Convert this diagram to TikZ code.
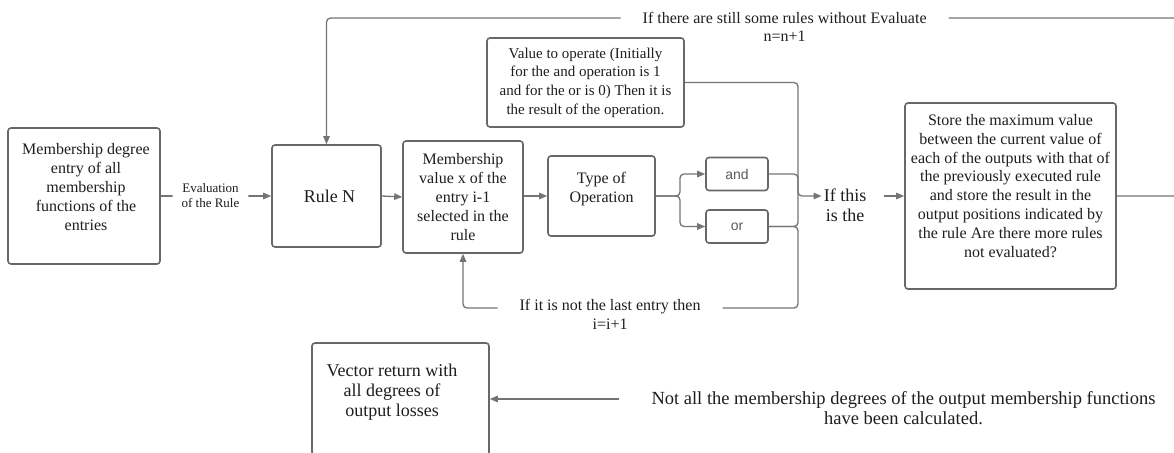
\documentclass[tikz,border=0pt]{standalone}
\usepackage{fontspec}
\setmainfont{Liberation Serif}
\newfontfamily\opsans{Liberation Sans}
\usetikzlibrary{arrows.meta}
\definecolor{edgegray}{HTML}{686868}
\definecolor{linegray}{HTML}{747474}
\definecolor{inkdark}{HTML}{1E1E1E}
\definecolor{opgray}{HTML}{5A5A5A}
\pgfdeclarelayer{background}
\pgfsetlayers{background,main}
\begin{document}
\begin{tikzpicture}[x=1pt,y=-1pt,
  box/.style={draw=edgegray, line width=1.6pt, rounded corners=3pt, fill=white,
    text=inkdark, align=center, inner sep=0pt},
  conn/.style={draw=linegray, line width=1.3pt, rounded corners=4pt},
  arr/.style={conn, -{Triangle[length=8pt,width=6.5pt]}},
  lbl/.style={fill=white, text=inkdark, align=center, inner ysep=1pt},
  tlbl/.style={text=inkdark, align=center},
  fsixteen/.style={font=\fontsize{16}{18.9}\selectfont},
  ffifteen/.style={font=\fontsize{15}{18.7}\selectfont},
  feighteen/.style={font=\fontsize{18}{20}\selectfont},
  opbox/.style={box, minimum width=62pt, minimum height=33pt, text=opgray,
    font=\opsans\fontsize{14}{16}\selectfont}
]
\useasboundingbox (0,0) rectangle (1174,452);
\clip (0,0) rectangle (1174,452);

% ---- boxes ----
\node[box, minimum width=152pt, minimum height=136pt,
  label={[tlbl, fsixteen, xshift=2pt, yshift=9pt]center:Membership degree\\entry of all\\membership\\functions of the\\entries}]
  (entries) at (84,196) {};

\node[box, minimum width=109pt, minimum height=102pt,
  font=\fontsize{18}{21}\selectfont] (rule) at (326.5,196) {\hspace*{6pt}Rule N};

\node[box, fsixteen, minimum width=120pt, minimum height=112pt]
  (memb) at (463,197) {Membership\\value x of the\\entry i-1\\selected in the\\rule};

\node[box, minimum width=107pt, minimum height=80pt,
  label={[tlbl, fsixteen, yshift=6.5pt]center:Type of\\Operation}]
  (type) at (601.5,196) {};

\node[opbox] (and) at (737,174) {and};
\node[opbox] (or) at (737,226.5) {or};

\node[box, ffifteen, minimum width=197pt, minimum height=89pt]
  (value) at (585.5,82.5) {Value to operate (Initially\\for the and operation is 1\\and for the or is 0) Then it is\\the result of the operation.};

\node[tlbl, feighteen, inner xsep=2pt, inner ysep=0pt] (ifthis) at (845,205) {If this\\is the};

\node[box, minimum width=211pt, minimum height=186pt,
  label={[tlbl, fsixteen, yshift=10pt]center:Store the maximum value\\between the current value of\\each of the outputs with that of\\the previously executed rule\\and store the result in the\\output positions indicated by\\the rule Are there more rules\\not evaluated?}]
  (store) at (1010.5,196) {};

\node[box, minimum width=177pt, minimum height=112pt,
  label={[tlbl, feighteen, xshift=-8.5pt, yshift=7pt]center:Vector return with\\all degrees of\\output losses}]
  (vector) at (400.5,399) {};

\node[tlbl, font=\fontsize{18.5}{20.5}\selectfont, inner xsep=32pt, inner ysep=0pt]
  (notall) at (903.5,408) {Not all the membership degrees of the output membership functions\\have been calculated.};

% ---- junction points ----
\coordinate (split) at (680,196);
\coordinate (jn) at (798,196);
\coordinate (jbot) at (798,308);
\coordinate (offedge) at (1195,196);
\coordinate (offtop) at (1195,18);
\coordinate (looptop) at (326.5,18);

% ---- connectors ----
\begin{pgfonlayer}{background}
\draw[arr] (entries.east) -- node[lbl, fsixteen, font=\fontsize{13}{15}\selectfont, inner xsep=9pt, pos=0.45] (evallbl) {Evaluation\\of the Rule} (rule.west);
\draw[arr] (rule.east) -- (memb.west);
\draw[arr] (memb.east |- jn) -- (type.west);
\draw[arr] (type.east) -- (split) |- (and.west);
\draw[arr] (type.east) -- (split) |- (or.west);
\draw[arr] (value.east) -| (jn) -- (jn -| ifthis.west);
\draw[conn] (and.east) -| (jn);
\draw[conn] (or.east) -| (jn);
\draw[arr] (or.east) -| (jbot) -- node[lbl, fsixteen, font=\fontsize{16}{19}\selectfont, inner xsep=22pt, pos=0.561, yshift=-6pt] (looplbl) {If it is not the last entry then\\i=i+1} (memb.south |- jbot) -- (memb.south);
\draw[arr, shorten <=16pt] (ifthis.east |- jn) -- (store.west);
\draw[arr] (store.east) -- (offedge) -- (offtop) -- node[lbl, font=\fontsize{16}{18.5}\selectfont, inner xsep=22pt, pos=0.4725, yshift=-9pt] (toplbl) {If there are still some rules without Evaluate\\n=n+1} (looptop) -- (rule.north);
\draw[arr] (notall.west |- vector.east) -- (vector.east);
\end{pgfonlayer}
\end{tikzpicture}
\end{document}
